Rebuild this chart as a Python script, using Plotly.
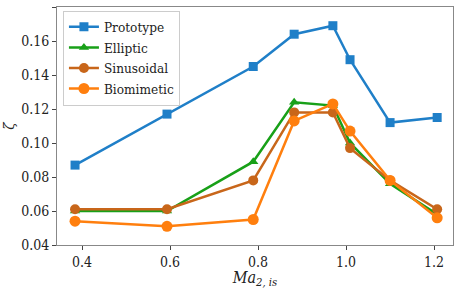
import plotly.graph_objects as go

ma = [0.384, 0.593, 0.789, 0.882, 0.970, 1.009, 1.100, 1.207]
prototype = [0.087, 0.117, 0.145, 0.164, 0.169, 0.149, 0.112, 0.115]
elliptic = [0.060, 0.060, 0.089, 0.124, 0.122, 0.100, 0.076, 0.058]
sinusoidal = [0.061, 0.061, 0.078, 0.118, 0.118, 0.097, 0.078, 0.061]
biomimetic = [0.054, 0.051, 0.055, 0.113, 0.123, 0.107, 0.078, 0.056]

series = [
    ("Prototype", prototype, "#1f7fc8", "square", 9),
    ("Elliptic", elliptic, "#18a018", "triangle-up", 9),
    ("Sinusoidal", sinusoidal, "#c8661a", "circle", 10),
    ("Biomimetic", biomimetic, "#ff7f0e", "circle", 11),
]

fig = go.Figure()
for name, vals, color, sym, size in series:
    fig.add_trace(go.Scatter(
        x=ma, y=vals, name=name, mode="lines+markers",
        line=dict(color=color, width=2.5),
        marker=dict(symbol=sym, size=size, color=color),
    ))

font = "DejaVu Serif Condensed"
fig.update_layout(
    width=457, height=289,
    margin=dict(l=57, r=4, t=7, b=44, autoexpand=False),
    paper_bgcolor="white", plot_bgcolor="white",
    font=dict(family=font, size=14, color="#222"),
    showlegend=True,
    legend=dict(x=0.015, y=0.985, xanchor="left", yanchor="top",
                bgcolor="white", bordercolor="#ccc", borderwidth=1,
                font=dict(family=font, size=13.5), tracegroupgap=0,
                itemwidth=30),
    xaxis=dict(range=[0.343, 1.243], tickvals=[0.4, 0.6, 0.8, 1.0, 1.2],
               ticktext=["0.4", "0.6", "0.8", "1.0", "1.2"],
               tickfont=dict(family=font, size=14),
               showgrid=False, zeroline=False, showline=True, mirror=True,
               linecolor="#888", linewidth=1, ticks="outside", ticklen=4,
               tickcolor="#444", automargin=False,
               title=dict(text="<i>Ma</i><sub><i>2, is</i></sub>", font=dict(family=font, size=16), standoff=0)),
    yaxis=dict(range=[0.04, 0.18], tickvals=[0.04, 0.06, 0.08, 0.10, 0.12, 0.14, 0.16, 0.18],
               ticktext=["0.04", "0.06", "0.08", "0.10", "0.12", "0.14", "0.16", "0.18"],
               tickfont=dict(family=font, size=14),
               showgrid=False, zeroline=False, showline=True, mirror=True,
               linecolor="#888", linewidth=1, ticks="outside", ticklen=4,
               tickcolor="#444", automargin=False,
               title=dict(text="<i>ζ</i>", font=dict(family=font, size=15), standoff=4)),
)
fig.write_html("out.html", config={"displayModeBar": False},
               post_script="document.body.style.margin='0';document.body.style.padding='0';")
